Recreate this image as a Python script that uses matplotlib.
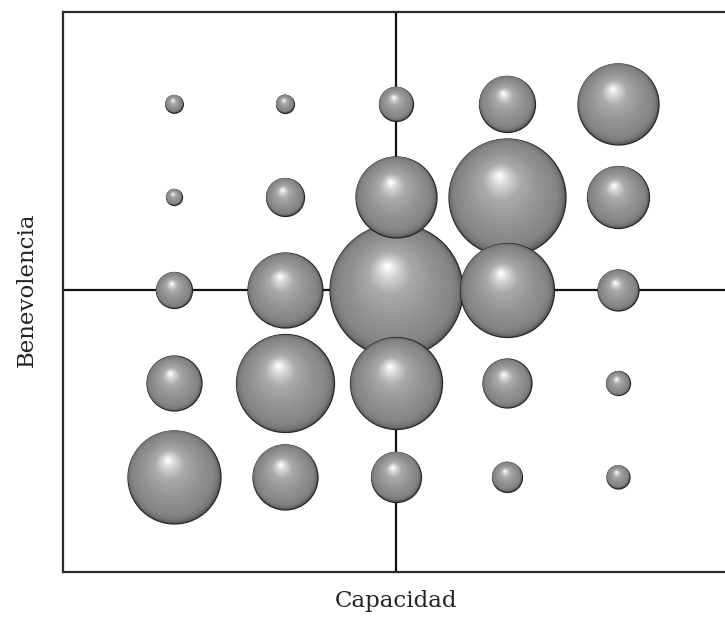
import numpy as np
import matplotlib
matplotlib.use('Agg')
import matplotlib.pyplot as plt

# ---- data ----
capacidad = [1, 2, 3, 4, 5]          # column positions
benevolencia = [5, 4, 3, 2, 1]       # row positions (top to bottom)
# bubble sizes (radius units), rows follow `benevolencia`, columns follow `capacidad`
size_row_5 = [8.8, 9.0, 17.0, 28.0, 40.5]
size_row_4 = [8.0, 19.0, 40.5, 58.5, 31.0]
size_row_3 = [18.0, 37.5, 66.5, 47.0, 20.5]
size_row_2 = [27.5, 49.0, 46.0, 24.5, 12.0]
size_row_1 = [46.5, 32.5, 25.0, 15.0, 11.5]
sizes = [size_row_5, size_row_4, size_row_3, size_row_2, size_row_1]
x_label = 'Capacidad'
y_label = 'Benevolencia'

W, H, DPI = 725, 618, 100
fig = plt.figure(figsize=(W / DPI, H / DPI), dpi=DPI)
ax = fig.add_axes([63 / W, 46 / H, 662 / W, 560 / H])
ax.set_xlim(0, 662 / 111)
ax.set_ylim(3 - 282 / 93.25, 3 + 278 / 93.25)
ax.set_xticks([])
ax.set_yticks([])
for side in ['left', 'top', 'bottom']:
    ax.spines[side].set_linewidth(1.6)
    ax.spines[side].set_color('#2a2a2a')
ax.spines['right'].set_visible(False)

ax.axvline(3, color='#111111', lw=1.6, zorder=1)
ax.axhline(3, color='#111111', lw=1.6, zorder=1)

# pixel per data unit (through the axes transform)
o = ax.transData.transform((0, 0))
ppx = ax.transData.transform((1, 0))[0] - o[0]
ppy = ax.transData.transform((0, 1))[1] - o[1]
pt_per_px = 72.0 / DPI

# gray ramp for shading (t=0 rim -> t=1 highlight)
tk = [0.0, 0.04, 0.12, 0.40, 0.70, 0.88, 1.0]
gk = [0.36, 0.46, 0.52, 0.58, 0.67, 0.84, 0.99]

bubbles = []
for yi, row in zip(benevolencia, sizes):
    for xi, r in zip(capacidad, row):
        bubbles.append((xi, yi, r))
bubbles.sort(key=lambda b: -b[2])

N = 70
t = np.linspace(0, 1, N)
gray = np.interp(t, tk, gk)
colors = np.stack([gray, gray, gray], axis=1)
hx, hy = -0.13, 0.36
for z, (xi, yi, r) in enumerate(bubbles):
    rk = r * (1 - 0.97 * t)
    xs = xi + hx * r * t / ppx
    ys = yi + hy * r * t / ppy
    s = (2 * rk * pt_per_px) ** 2
    base = 10 + z * 2
    ax.scatter([xi], [yi], s=[(2 * r * pt_per_px) ** 2], c=['#5c5c5c'],
               edgecolors='#262626', linewidths=0.9, zorder=base)
    ax.scatter(xs[1:], ys[1:], s=s[1:], c=colors[1:], linewidths=0, zorder=base + 1)

fig.text(396 / W, 1 - 601 / H, x_label, ha='center', va='center',
         fontsize=16.5, family='DejaVu Serif', color='#222222')
fig.text(27 / W, 1 - 290 / H, y_label, ha='center', va='center', rotation=90,
         fontsize=16.5, family='DejaVu Serif', color='#222222')

fig.savefig('out.png', dpi=DPI, facecolor='white')
